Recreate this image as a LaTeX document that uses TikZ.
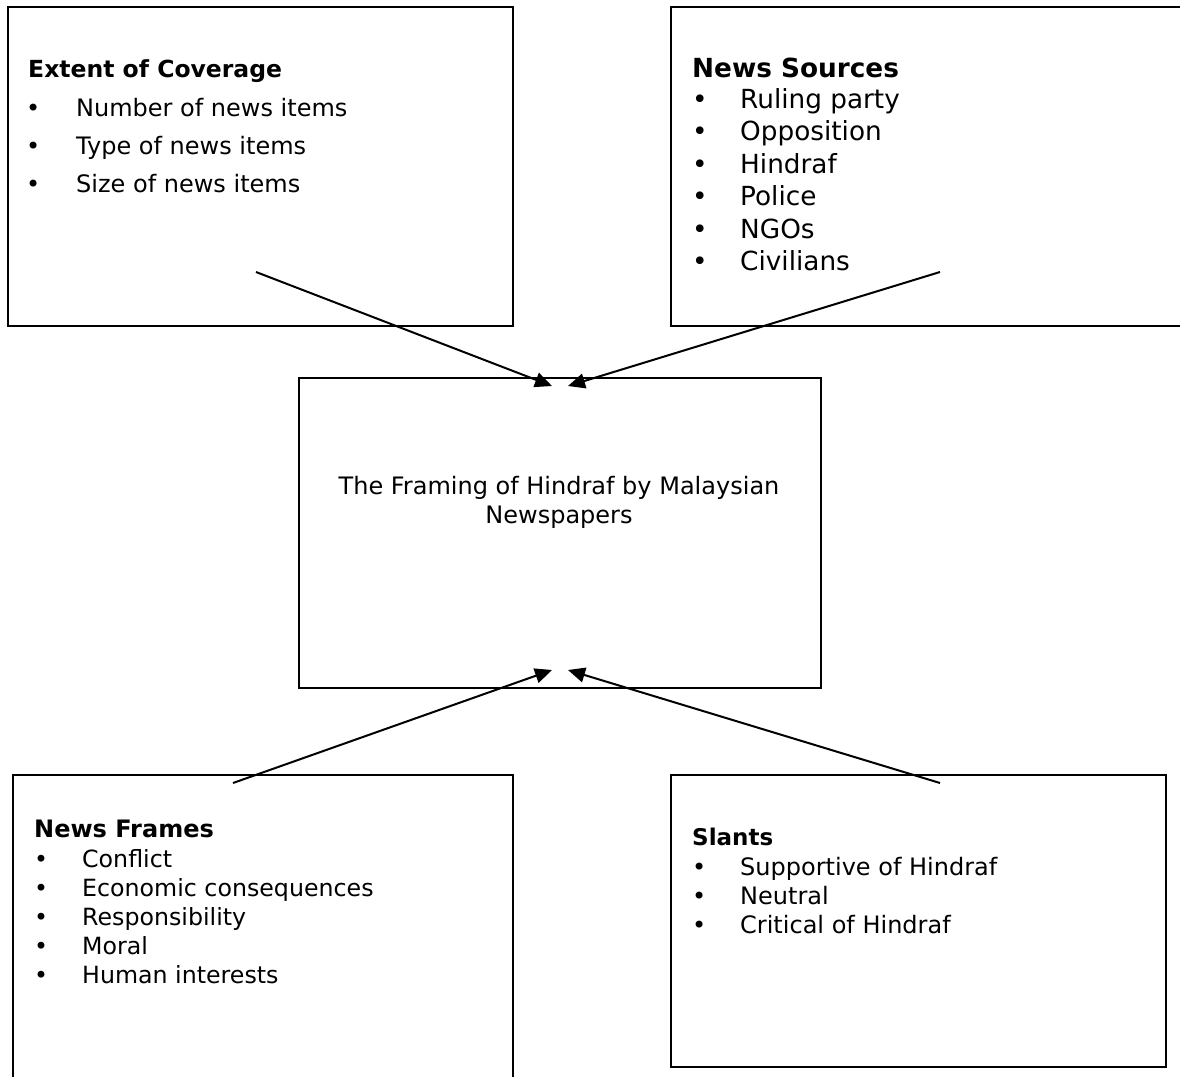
\documentclass[tikz,border=0pt]{standalone}
\usepackage{fontspec}
\setmainfont{DejaVu Sans}
\usetikzlibrary{arrows.meta}
\begin{document}
\begin{tikzpicture}[x=1pt,y=-1pt,
  box/.style={draw, line width=2pt, rectangle, inner sep=0pt, anchor=north west},
  txt/.style={inner sep=0pt, anchor=base west, align=left},
  arr/.style={line width=2pt, -{Triangle[length=17pt,width=15pt]}}]
\useasboundingbox (0,0) rectangle (1180,1076);
\fill[white] (0,0) rectangle (1180,1076);
% boxes
\node[box, minimum width=505pt, minimum height=319pt] (A) at (7,6) {};
\node[box, minimum width=520pt, minimum height=319pt] (B) at (670,6) {};
\node[box, minimum width=522pt, minimum height=310pt] (C) at (298,377) {};
\node[box, minimum width=500pt, minimum height=320pt] (D) at (12,774) {};
\node[box, minimum width=495pt, minimum height=292pt] (E) at (670,774) {};
% box A text
\node[txt] (hA) at (28,77) {\fontsize{23.5}{38}\selectfont\bfseries Extent of Coverage};
\node[txt] (lA) at (26,116) {\fontsize{24}{38}\selectfont\begin{tabular}[t]{@{}p{50pt}@{}l@{}}•&Number of news items\\•&Type of news items\\•&Size of news items\end{tabular}};
% box B text
\node[txt] (hB) at (692,77) {\fontsize{26.3}{32.5}\selectfont\bfseries News Sources};
\node[txt] (lB) at (692,108) {\fontsize{26.3}{32.5}\selectfont\begin{tabular}[t]{@{}p{48pt}@{}l@{}}•&Ruling party\\•&Opposition\\•&Hindraf\\•&Police\\•&NGOs\\•&Civilians\end{tabular}};
% center text
\node[inner sep=0pt, anchor=base, align=center, font=\fontsize{24}{29}\selectfont] (tC) at (559,523) {The Framing of Hindraf by Malaysian\\Newspapers};
% box D text
\node[txt] (hD) at (34,837) {\fontsize{24}{29}\selectfont\bfseries News Frames};
\node[txt] (lD) at (34,867) {\fontsize{23.7}{29}\selectfont\begin{tabular}[t]{@{}p{48pt}@{}l@{}}•&Conflict\\•&Economic consequences\\•&Responsibility\\•&Moral\\•&Human interests\end{tabular}};
% box E text
\node[txt] (hE) at (692,845) {\fontsize{23}{29}\selectfont\bfseries Slants};
\node[txt] (lE) at (692,875) {\fontsize{24}{29}\selectfont\begin{tabular}[t]{@{}p{48pt}@{}l@{}}•&Supportive of Hindraf\\•&Neutral\\•&Critical of Hindraf\end{tabular}};
% arrow ends
\coordinate (sA) at (256,272);
\coordinate (tA) at (552,386);
\coordinate (sB) at (940,272);
\coordinate (tB) at (568,386);
\coordinate (sD) at (233,783);
\coordinate (tD) at (552,670);
\coordinate (sE) at (940,783);
\coordinate (tE) at (568,670);
\draw[arr] (sA) -- (tA);
\draw[arr] (sB) -- (tB);
\draw[arr] (sD) -- (tD);
\draw[arr] (sE) -- (tE);
\end{tikzpicture}
\end{document}
